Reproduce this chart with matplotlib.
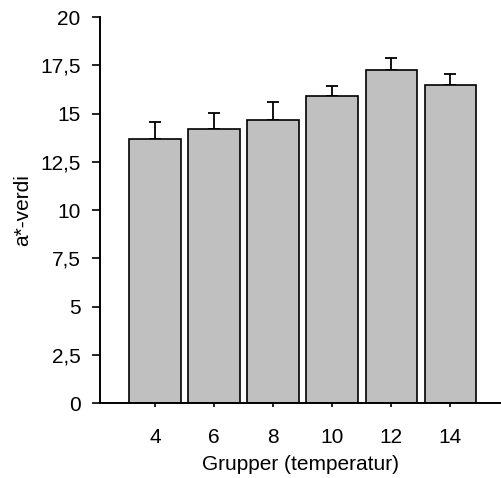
import matplotlib
matplotlib.use("Agg")
import matplotlib.pyplot as plt
from matplotlib.ticker import FuncFormatter

# temperature groups and mean a*-values with (upper) error
groups = [4, 6, 8, 10, 12, 14]
means = [13.7, 14.2, 14.65, 15.9, 17.25, 16.5]
errors = [0.85, 0.85, 0.95, 0.55, 0.65, 0.55]

y_ticks = [0, 2.5, 5, 7.5, 10, 12.5, 15, 17.5, 20]

plt.rcParams["font.family"] = ["Liberation Sans", "DejaVu Sans"]

fig = plt.figure(figsize=(5.02, 4.78), dpi=100)
ax = fig.add_axes([0.1992, 0.1569, 0.8008, 0.8075])

ax.bar(groups, means, width=1.74, color="#c0c0c0", edgecolor="black",
       linewidth=1.2, zorder=2)
ax.errorbar(groups, means, yerr=[[0] * len(errors), errors], fmt="none",
            ecolor="black", elinewidth=1.3, capsize=4.5, capthick=1.3, zorder=1)

ax.set_xlim(2.14, 15.75)
ax.set_ylim(0, 20)
ax.set_xticks(groups)
ax.set_yticks(y_ticks)
# Norwegian decimal comma
ax.yaxis.set_major_formatter(
    FuncFormatter(lambda v, _: f"{v:g}".replace(".", ",")))

for side in ("top", "right"):
    ax.spines[side].set_visible(False)
for side in ("left", "bottom"):
    ax.spines[side].set_linewidth(1.4)

ax.tick_params(axis="y", direction="out", length=6, width=1.2,
               labelsize=15, pad=8)
ax.tick_params(axis="x", direction="out", length=3, width=1.2,
               labelsize=15, pad=15)

ax.set_xlabel("Grupper (temperatur)", fontsize=15, labelpad=6)
ax.set_ylabel("a*-verdi", fontsize=15, labelpad=6)

fig.savefig("out.png", dpi=100)
